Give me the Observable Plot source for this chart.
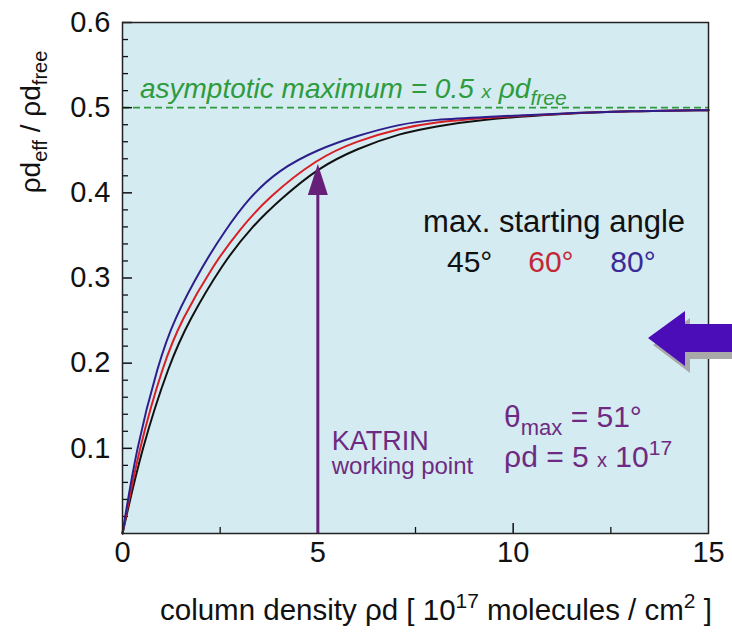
<!DOCTYPE html>
<html><head><meta charset="utf-8">
<script src="https://cdn.jsdelivr.net/npm/d3@7"></script>
<script src="https://cdn.jsdelivr.net/npm/@observablehq/plot@0.6"></script>
<style>body{margin:0;background:#fff;} svg{display:block}</style>
</head><body><div id="chart"></div>
<script>
// ---- data ----
const angles = ["45°", "60°", "80°"];
const curveColors = ["#111111", "#d91e26", "#2c1f8c"];
const labelColors = ["#111111", "#c42837", "#3b2b97"];

const x45 = [0, 0.49, 1.2, 1.7, 2.55, 3.3, 4.08, 5.0, 6.0, 7.12, 8.0, 9.16, 11.2, 13.0, 15.0];
const y45 = [0, 0.1, 0.2, 0.25, 0.316, 0.36, 0.394, 0.429, 0.452, 0.470, 0.478, 0.486, 0.493, 0.496, 0.497];

const x60 = [0, 0.42, 1.05, 1.5, 2.33, 3.0, 3.71, 5.0, 6.0, 7.12, 8.0, 9.16, 11.2, 13.0, 15.0];
const y60 = [0, 0.1, 0.2, 0.25, 0.316, 0.357, 0.394, 0.441, 0.461, 0.476, 0.483, 0.488, 0.493, 0.496, 0.497];

const x80 = [0, 0.35, 0.92, 1.3, 2.07, 2.6, 3.23, 4.0, 5.0, 6.0, 7.12, 8.0, 9.16, 11.2, 13.0, 15.0];
const y80 = [0, 0.1, 0.2, 0.25, 0.316, 0.354, 0.394, 0.427, 0.451, 0.467, 0.481, 0.486, 0.489, 0.493, 0.496, 0.497];

const xTicks = [0, 5, 10, 15];
const xInnerMajor = [5, 10];
const xInnerMinor = [2.5, 7.5, 12.5];
const yTicks = [0.1, 0.2, 0.3, 0.4, 0.5, 0.6];
const yMinor = [0.02, 0.04, 0.06, 0.08, 0.12, 0.14, 0.16, 0.18, 0.22, 0.24, 0.26, 0.28, 0.32, 0.34, 0.36, 0.38, 0.42, 0.44, 0.46, 0.48, 0.52, 0.54, 0.56, 0.58];
const asymptote = [0.5];
const workingPointX = [5];
const workingPointY = [0.434];

// ---- build table ----
const series = [[x45, y45], [x60, y60], [x80, y80]];
const rows = series.flatMap(([xs, ys], i) => xs.map((x, j) => ({angle: angles[i], x, y: ys[j]})));

const W = 732, H = 637;
const mL = 122, mR = 24, mT = 22, mB = 104;
const plotW = W - mL - mR, plotH = H - mT - mB;

const purple = "#66207a";
const green = "#2e9b3e";

const headSymbol = {
  draw(ctx) {
    ctx.moveTo(0, 0);
    ctx.lineTo(10, 31);
    ctx.lineTo(-10, 31);
    ctx.closePath();
  }
};

const plot = Plot.plot({
  width: W, height: H,
  marginLeft: mL, marginRight: mR, marginTop: mT, marginBottom: mB,
  style: {fontFamily: "'Liberation Sans', Arial, sans-serif", fontSize: "29px", color: "#111", background: "white"},
  x: {domain: [0, 15], ticks: xTicks, tickSize: 0, tickPadding: 8, label: null, tickFormat: d => String(d)},
  y: {domain: [0, 0.6], ticks: yTicks, tickSize: 0, tickPadding: 12, label: null, tickFormat: d => d.toFixed(1)},
  color: {domain: angles, range: curveColors},
  marks: [
    Plot.frame({fill: "#d4ebf1", stroke: "none"}),
    Plot.ruleY(asymptote, {stroke: green, strokeWidth: 1.6, strokeDasharray: "7,4"}),
    Plot.tickY(yTicks, {y: d => d, stroke: "#111", strokeWidth: 1.5, insetRight: plotW - 10}),
    Plot.tickY(yMinor, {y: d => d, stroke: "#111", strokeWidth: 1.3, insetRight: plotW - 6}),
    Plot.tickX(xInnerMajor, {x: d => d, stroke: "#111", strokeWidth: 1.5, insetTop: plotH - 10}),
    Plot.tickX(xInnerMinor, {x: d => d, stroke: "#111", strokeWidth: 1.3, insetTop: plotH - 6}),
    Plot.line(rows, {x: "x", y: "y", z: "angle", stroke: "angle", strokeWidth: 2, curve: "basis"}),
    Plot.ruleX(workingPointX, {x: d => d, y1: 0, y2: (d, i) => workingPointY[i] - 0.02, stroke: purple, strokeWidth: 3}),
    Plot.dot(workingPointX, {x: d => d, y: (d, i) => workingPointY[i], symbol: headSymbol, r: 10, fill: purple, stroke: "none"}),
    Plot.frame({stroke: "#222", strokeWidth: 1.5})
  ]
});

document.getElementById("chart").appendChild(plot);

// ---- annotations with sub/superscripts ----
const sx = plot.scale("x"), sy = plot.scale("y");
const svg = d3.select(plot);
const FONT = "'Liberation Sans', Arial, sans-serif";

function rich(parent, x, y, parts, attrs) {
  const t = parent.append("text").attr("x", x).attr("y", y)
    .attr("font-family", FONT).attr("text-anchor", "start");
  for (const k in attrs) t.attr(k, attrs[k]);
  let shift = 0;
  for (const p of parts) {
    const s = p.shift || 0;
    const ts = t.append("tspan").text(p.t);
    if (s - shift !== 0) ts.attr("dy", s - shift);
    if (p.size) ts.attr("font-size", p.size);
    if (p.fill) ts.attr("fill", p.fill);
    shift = s;
  }
  return t;
}

// asymptote label
rich(svg, sx.apply(0.46), sy.apply(0.511), [
  {t: "asymptotic maximum = 0.5 "},
  {t: "x", size: 19},
  {t: " ρd"},
  {t: "free", size: 21, shift: 7}
], {"font-size": 28, "font-style": "italic", fill: green});

// legend-like text
rich(svg, sx.apply(11.06), sy.apply(0.353), [{t: "max. starting angle"}],
  {"font-size": 31, "text-anchor": "middle", fill: "#111"});
const angleX = [8.9, 10.98, 13.08];
angles.forEach((a, i) => {
  rich(svg, sx.apply(angleX[i]), sy.apply(0.306), [{t: a}],
    {"font-size": 30, "text-anchor": "middle", fill: labelColors[i]});
});

// KATRIN labels
rich(svg, sx.apply(5.37), sy.apply(0.097), [{t: "KATRIN"}], {"font-size": 27, fill: "#6e2a82"});
rich(svg, sx.apply(5.37), sy.apply(0.069), [{t: "working point"}], {"font-size": 24, fill: "#6e2a82"});
rich(svg, sx.apply(9.78), sy.apply(0.124), [
  {t: "θ"}, {t: "max", size: 22, shift: 8}, {t: " = 51°"}
], {"font-size": 30, fill: "#6e2a82"});
rich(svg, sx.apply(9.78), sy.apply(0.077), [
  {t: "ρd = 5 "}, {t: "x", size: 20}, {t: " 10"}, {t: "17", size: 21, shift: -12}
], {"font-size": 30, fill: "#6e2a82"});

// axis titles
rich(svg, 160, 620, [
  {t: "column density ρd [ 10"},
  {t: "17", size: 21, shift: -12},
  {t: " molecules / cm"},
  {t: "2", size: 21, shift: -12},
  {t: " ]"}
], {"font-size": 29.5, fill: "#111"});

const yl = svg.append("g").attr("transform", "translate(40,122) rotate(-90)");
rich(yl, 0, 0, [
  {t: "ρd"}, {t: "eff", size: 20, shift: 7}, {t: " / ρd"}, {t: "free", size: 20, shift: 7}
], {"font-size": 28, "text-anchor": "middle", fill: "#111"});

// decorative block arrow (slide decoration)
const arrowPath = "M648,338 L685,311 L685,324 L740,324 L740,352 L685,352 L685,366 Z";
svg.append("path").attr("d", arrowPath).attr("fill", "#a9a9a9").attr("transform", "translate(5,7)");
svg.append("path").attr("d", arrowPath).attr("fill", "#4a0db8");
</script>
</body></html>
